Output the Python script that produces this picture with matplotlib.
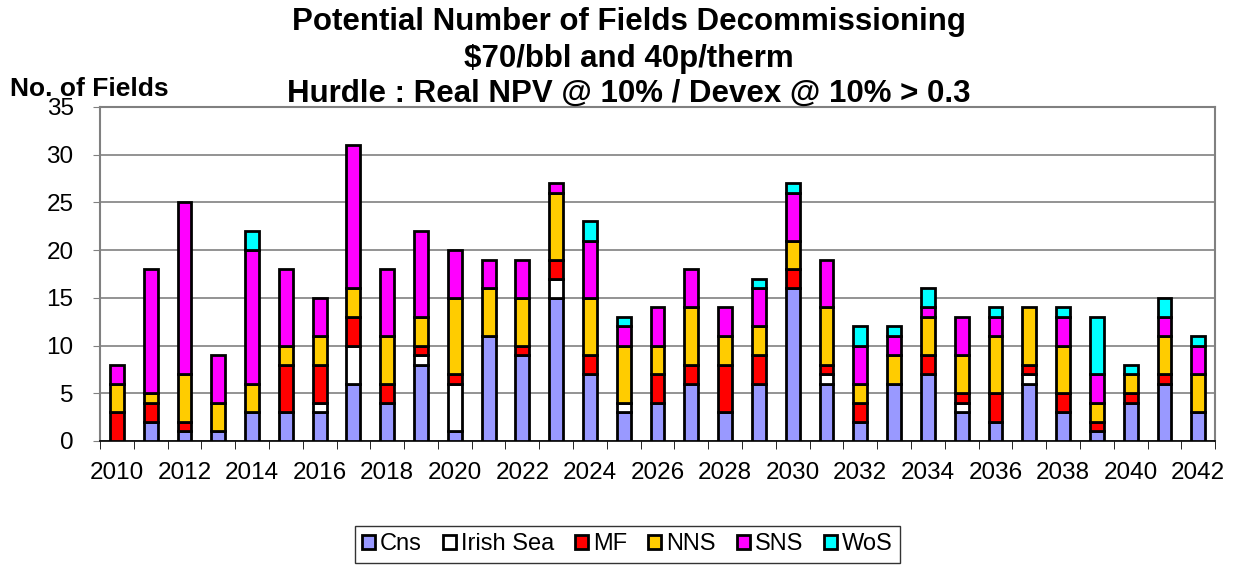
import numpy as np
import matplotlib.pyplot as plt
from matplotlib.patches import Patch

plt.rcParams['font.family'] = ['Liberation Sans', 'DejaVu Sans']

years = list(range(2010, 2043))
cns = [0, 2, 1, 1, 3, 3, 3, 6, 4, 8, 1, 11, 9, 15, 7, 3, 4, 6, 3, 6, 16, 6, 2, 6, 7, 3, 2, 6, 3, 1, 4, 6, 3]
irish_sea = [0, 0, 0, 0, 0, 0, 1, 4, 0, 1, 5, 0, 0, 2, 0, 1, 0, 0, 0, 0, 0, 1, 0, 0, 0, 1, 0, 1, 0, 0, 0, 0, 0]
mf = [3, 2, 1, 0, 0, 5, 4, 3, 2, 1, 1, 0, 1, 2, 2, 0, 3, 2, 5, 3, 2, 1, 2, 0, 2, 1, 3, 1, 2, 1, 1, 1, 0]
nns = [3, 1, 5, 3, 3, 2, 3, 3, 5, 3, 8, 5, 5, 7, 6, 6, 3, 6, 3, 3, 3, 6, 2, 3, 4, 4, 6, 6, 5, 2, 2, 4, 4]
sns = [2, 13, 18, 5, 14, 8, 4, 15, 7, 9, 5, 3, 4, 1, 6, 2, 4, 4, 3, 4, 5, 5, 4, 2, 1, 4, 2, 0, 3, 3, 0, 2, 3]
wos = [0, 0, 0, 0, 2, 0, 0, 0, 0, 0, 0, 0, 0, 0, 2, 1, 0, 0, 0, 1, 1, 0, 2, 1, 2, 0, 1, 0, 1, 6, 1, 2, 1]

series = [
    ("Cns", cns, "#9999FF"),
    ("Irish Sea", irish_sea, "#FFFFFF"),
    ("MF", mf, "#FF0000"),
    ("NNS", nns, "#FFCC00"),
    ("SNS", sns, "#FF00FF"),
    ("WoS", wos, "#00FFFF"),
]

fig = plt.figure(figsize=(12.45, 5.66), dpi=100)
ax = fig.add_axes([0.0803, 0.221, 0.8957, 0.590])

x = np.arange(len(years))
bottom = np.zeros(len(years))
for name, vals, col in series:
    vals = np.array(vals, dtype=float)
    mask = vals > 0
    ax.bar(x[mask], vals[mask], width=0.41, bottom=bottom[mask], color=col,
           edgecolor="black", linewidth=2, zorder=3)
    bottom += vals

ax.set_ylim(0, 35)
ax.set_xlim(-0.5, len(years) - 0.5)
ax.set_yticks(range(0, 36, 5))
ax.tick_params(axis='y', labelsize=17.5, length=5, color='#808080', pad=14)
ax.set_xticks(x[::2])
ax.set_xticklabels([str(y) for y in years[::2]], fontsize=17.5)
ax.tick_params(axis='x', length=0, pad=15)
ax.set_xticks(np.arange(-0.5, len(years), 1), minor=True)
ax.tick_params(axis='x', which='minor', length=6, color='black')

ax.yaxis.grid(True, color='#808080', linewidth=1.2, zorder=0)
ax.set_axisbelow(True)
for s in ['top', 'right', 'left']:
    ax.spines[s].set_color('#808080')
    ax.spines[s].set_linewidth(1.5)
ax.spines['bottom'].set_color('black')
ax.spines['bottom'].set_linewidth(1.2)

fig.text(0.505, 0.961, "Potential Number of Fields Decommissioning", ha='center', va='center',
         fontsize=22.5, fontweight='bold')
fig.text(0.505, 0.895, "$70/bbl and 40p/therm", ha='center', va='center',
         fontsize=22.5, fontweight='bold')
fig.text(0.505, 0.834, "Hurdle : Real NPV @ 10% / Devex @ 10% > 0.3", ha='center', va='center',
         fontsize=22.5, fontweight='bold')
fig.text(0.008, 0.843, "No. of Fields", ha='left', va='center', fontsize=19, fontweight='bold')

handles = [Patch(facecolor=c, edgecolor='black', linewidth=2, label=n) for n, _, c in series]
leg = fig.legend(handles=handles, loc='center', bbox_to_anchor=(0.504, 0.038), ncol=6,
                 fontsize=17, frameon=True, fancybox=False, handlelength=0.55, handleheight=0.55,
                 handletextpad=0.2, columnspacing=0.9, borderpad=0.3)
leg.get_frame().set_edgecolor('black')
leg.get_frame().set_linewidth(1)

fig.savefig("out.png", dpi=100)
